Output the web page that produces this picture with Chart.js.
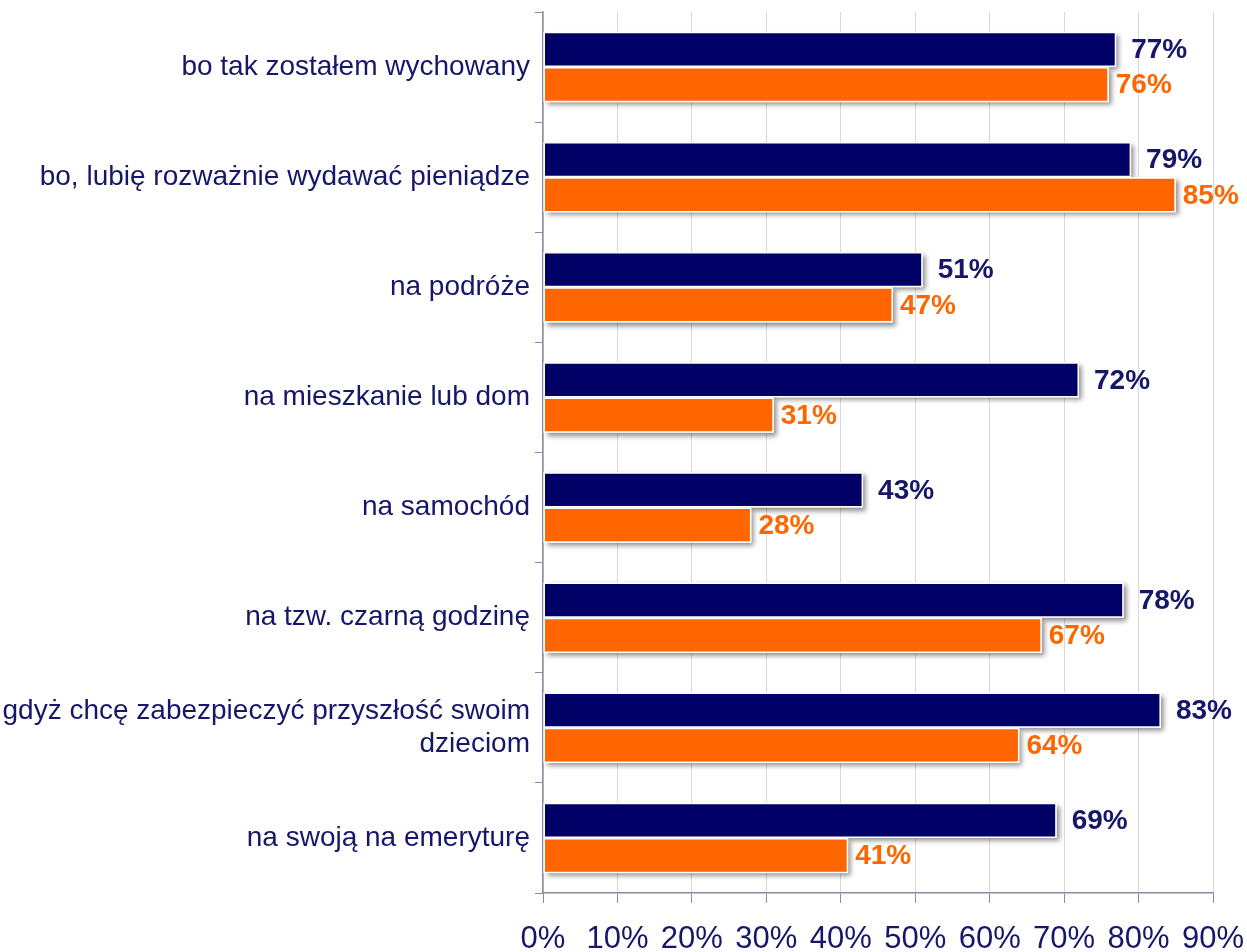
<!DOCTYPE html>
<html>
<head>
<meta charset="utf-8">
<script src="https://cdn.jsdelivr.net/npm/chart.js@4"></script>
<style>
  html, body { margin: 0; padding: 0; background: #fff; }
  #wrap { width: 1247px; height: 952px; position: relative; }
</style>
</head>
<body>
<div id="wrap"><canvas id="oszczChart"></canvas></div>
<script>
// dane
var categories = [
  "bo tak zostałem wychowany",
  "bo, lubię rozważnie wydawać pieniądze",
  "na podróże",
  "na mieszkanie lub dom",
  "na samochód",
  "na tzw. czarną godzinę",
  ["gdyż chcę zabezpieczyć przyszłość swoim", "dzieciom"],
  "na swoją na emeryturę"
];
var seriesNavy = [77, 79, 51, 72, 43, 78, 83, 69];
var seriesOrange = [76, 85, 47, 31, 28, 67, 64, 41];
var xTicks = [0, 10, 20, 30, 40, 50, 60, 70, 80, 90];

var FONT = "'Liberation Sans', Arial, sans-serif";
var NAVY = "#000066";
var ORANGE = "#ff6600";
var TEXT_NAVY = "#16166a";
var AXIS = "#8c8ca0";

// cień pod słupkami (rysowany przed słupkami, żeby nie zachodził na nie)
var barShadow = {
  id: "barShadow",
  beforeDatasetsDraw: function (chart) {
    var ctx = chart.ctx;
    ctx.save();
    ctx.shadowColor = "rgba(0, 0, 0, 0.45)";
    ctx.shadowBlur = 5;
    ctx.shadowOffsetX = 3;
    ctx.shadowOffsetY = 3;
    ctx.fillStyle = "#fff";
    chart.data.datasets.forEach(function (ds, i) {
      chart.getDatasetMeta(i).data.forEach(function (bar) {
        var p = bar.getProps(["x", "y", "base", "height"], true);
        ctx.fillRect(p.base, p.y - p.height / 2, p.x - p.base, p.height);
      });
    });
    ctx.restore();
  }
};

// etykiety wartości przy słupkach
var labelGap = [15, 7];
var valueLabels = {
  id: "valueLabels",
  afterDatasetsDraw: function (chart) {
    var ctx = chart.ctx;
    ctx.save();
    ctx.font = "bold 28px " + FONT;
    ctx.textBaseline = "middle";
    ctx.textAlign = "left";
    chart.data.datasets.forEach(function (ds, i) {
      ctx.fillStyle = i === 0 ? TEXT_NAVY : ORANGE;
      chart.getDatasetMeta(i).data.forEach(function (bar, j) {
        ctx.fillText(ds.data[j] + "%", bar.x + labelGap[i], bar.y + 1);
      });
    });
    ctx.restore();
  }
};

var ctx = document.getElementById("oszczChart").getContext("2d");
new Chart(ctx, {
  type: "bar",
  data: {
    labels: categories,
    datasets: [
      {
        label: "Seria 1",
        data: seriesNavy,
        backgroundColor: NAVY,
        borderColor: "#ffffff",
        borderWidth: 1.5,
        borderSkipped: false,
        categoryPercentage: 0.64,
        barPercentage: 1.0
      },
      {
        label: "Seria 2",
        data: seriesOrange,
        backgroundColor: ORANGE,
        borderColor: "#ffffff",
        borderWidth: 1.5,
        borderSkipped: false,
        categoryPercentage: 0.64,
        barPercentage: 1.0
      }
    ]
  },
  options: {
    indexAxis: "y",
    responsive: true,
    maintainAspectRatio: false,
    animation: false,
    layout: { padding: { top: 12, right: 34, left: 0, bottom: 0 } },
    plugins: {
      legend: { display: false },
      tooltip: { enabled: false }
    },
    scales: {
      x: {
        min: 0,
        max: 90,
        afterBuildTicks: function (axis) {
          axis.ticks = xTicks.map(function (v) { return { value: v }; });
        },
        afterFit: function (scale) {
          scale.height = 59;
          scale.paddingLeft = 0;
          scale.paddingRight = 0;
        },
        ticks: {
          callback: function (v) { return v + "%"; },
          font: { family: FONT, size: 31, lineHeight: 1.0 },
          color: TEXT_NAVY,
          padding: 21,
          maxRotation: 0,
          autoSkip: false
        },
        grid: { color: "#d9d9d9", tickColor: AXIS, tickLength: 10, lineWidth: 1 },
        border: { color: AXIS, width: 1.5 }
      },
      y: {
        afterFit: function (scale) {
          scale.width = 543;
          scale.paddingTop = 0;
          scale.paddingBottom = 0;
        },
        ticks: {
          font: { family: FONT, size: 28, lineHeight: 1.18 },
          color: TEXT_NAVY,
          padding: 5,
          autoSkip: false
        },
        grid: { drawOnChartArea: false, offset: true, tickLength: 8, color: AXIS, tickColor: AXIS },
        border: { color: AXIS, width: 1.5 }
      }
    }
  },
  plugins: [barShadow, valueLabels]
});
</script>
</body>
</html>
